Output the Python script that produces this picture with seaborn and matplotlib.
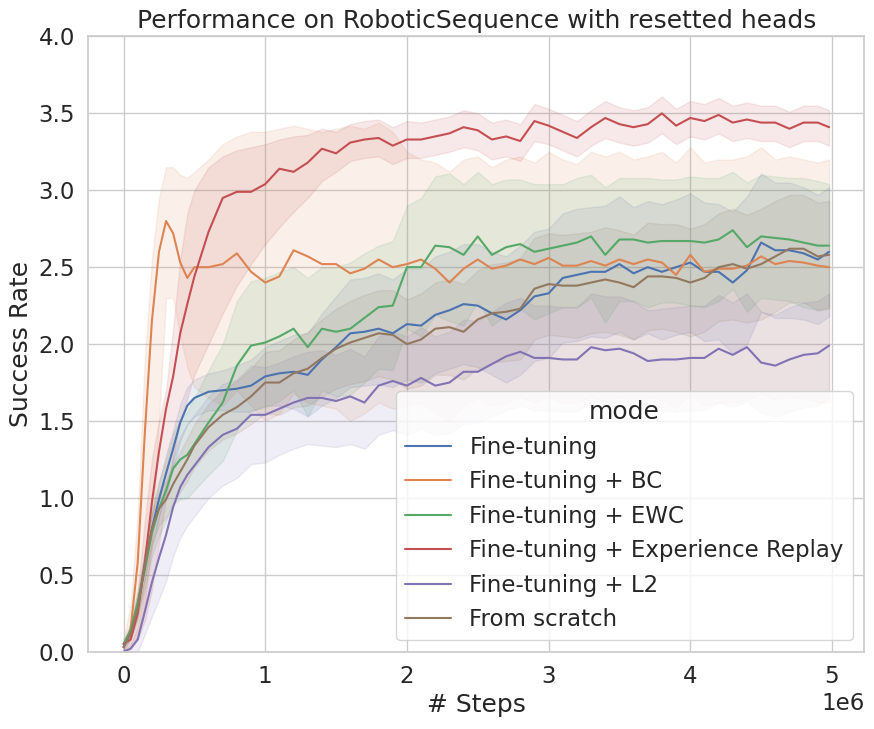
import pandas as pd
import numpy as np
import matplotlib
matplotlib.use("Agg")
import matplotlib.pyplot as plt
import seaborn as sns

# steps in millions
steps = [0.0, 0.05, 0.1, 0.15, 0.2, 0.25, 0.3, 0.35, 0.4, 0.45, 0.5,
         0.6, 0.7, 0.8, 0.9, 1.0,
         1.1, 1.2, 1.3, 1.4, 1.5, 1.6, 1.7, 1.8, 1.9, 2.0,
         2.1, 2.2, 2.3, 2.4, 2.5, 2.6, 2.7, 2.8, 2.9, 3.0,
         3.1, 3.2, 3.3, 3.4, 3.5, 3.6, 3.7, 3.8, 3.9, 4.0,
         4.1, 4.2, 4.3, 4.4, 4.5, 4.6, 4.7, 4.8, 4.9,
         4.98]

modes = ['Fine-tuning', 'Fine-tuning + BC', 'Fine-tuning + EWC',
         'Fine-tuning + Experience Replay', 'Fine-tuning + L2', 'From scratch']

# Fine-tuning
ft_mean = [0.03, 0.12, 0.30, 0.56, 0.80, 0.99, 1.16, 1.32, 1.49, 1.60, 1.65,
           1.69, 1.70, 1.71, 1.73, 1.79,
           1.81, 1.82, 1.80, 1.90, 1.98, 2.07, 2.08, 2.10, 2.07, 2.13,
           2.12, 2.19, 2.22, 2.26, 2.25, 2.20, 2.16, 2.22, 2.31, 2.33,
           2.43, 2.45, 2.47, 2.47, 2.52, 2.46, 2.50, 2.47, 2.50, 2.53,
           2.47, 2.47, 2.40, 2.48, 2.66, 2.61, 2.61, 2.59, 2.55,
           2.60]
ft_err = [0.02, 0.04, 0.07, 0.09, 0.10, 0.11, 0.12, 0.12, 0.12, 0.12, 0.12,
          0.12, 0.13, 0.15, 0.17, 0.19,
          0.21, 0.24, 0.27, 0.30, 0.33, 0.35, 0.35, 0.36, 0.35, 0.36,
          0.37, 0.38, 0.38, 0.39, 0.40, 0.40, 0.41, 0.42, 0.42, 0.42,
          0.42, 0.43, 0.42, 0.43, 0.44, 0.43, 0.43, 0.44, 0.44, 0.45,
          0.45, 0.44, 0.46, 0.48, 0.45, 0.44, 0.44, 0.43, 0.42,
          0.42]

# Fine-tuning + BC
bc_mean = [0.03, 0.15, 0.58, 1.42, 2.15, 2.60, 2.80, 2.72, 2.53, 2.43, 2.50,
           2.50, 2.52, 2.59, 2.47, 2.40,
           2.44, 2.61, 2.57, 2.52, 2.52, 2.46, 2.49, 2.55, 2.50, 2.52,
           2.55, 2.49, 2.40, 2.49, 2.55, 2.49, 2.51, 2.55, 2.52, 2.56,
           2.51, 2.51, 2.54, 2.51, 2.55, 2.52, 2.55, 2.53, 2.45, 2.58,
           2.47, 2.49, 2.49, 2.51, 2.57, 2.52, 2.54, 2.53, 2.51,
           2.50]
bc_lo = [0.00, 0.02, 0.10, 0.30, 0.70, 1.50, 2.30, 2.30, 2.05, 1.85, 1.72,
         1.65, 1.60, 1.70, 1.60, 1.50,
         1.55, 1.68, 1.62, 1.60, 1.58, 1.50, 1.55, 1.62, 1.58, 1.60,
         1.62, 1.55, 1.50, 1.60, 1.65, 1.60, 1.62, 1.66, 1.62, 1.66,
         1.62, 1.62, 1.66, 1.62, 1.66, 1.63, 1.66, 1.64, 1.58, 1.68,
         1.60, 1.62, 1.62, 1.64, 1.68, 1.64, 1.66, 1.65, 1.62,
         1.62]
bc_hi = [0.08, 0.30, 0.90, 1.90, 2.55, 2.95, 3.15, 3.15, 3.10, 3.08, 3.12,
         3.20, 3.30, 3.35, 3.38, 3.38,
         3.40, 3.42, 3.40, 3.38, 3.40, 3.42, 3.40, 3.44, 3.38, 3.25,
         3.20, 3.18, 3.12, 3.20, 3.22, 3.15, 3.20, 3.22, 3.18, 3.25,
         3.20, 3.17, 3.25, 3.22, 3.25, 3.20, 3.22, 3.25, 3.18, 3.28,
         3.18, 3.20, 3.20, 3.22, 3.28, 3.20, 3.22, 3.20, 3.18,
         3.20]

# Fine-tuning + EWC
ewc_mean = [0.05, 0.14, 0.32, 0.53, 0.77, 0.93, 1.05, 1.19, 1.25, 1.28, 1.35,
            1.49, 1.62, 1.86, 1.99, 2.01,
            2.05, 2.10, 1.98, 2.10, 2.08, 2.10, 2.17, 2.24, 2.25, 2.50,
            2.50, 2.64, 2.63, 2.58, 2.70, 2.58, 2.63, 2.65, 2.60, 2.62,
            2.64, 2.66, 2.70, 2.58, 2.68, 2.68, 2.66, 2.67, 2.67, 2.67,
            2.66, 2.68, 2.74, 2.63, 2.70, 2.69, 2.68, 2.66, 2.64,
            2.64]
ewc_err = [0.02, 0.05, 0.08, 0.12, 0.15, 0.18, 0.20, 0.23, 0.26, 0.28, 0.30,
           0.34, 0.38, 0.42, 0.42, 0.42,
           0.42, 0.40, 0.45, 0.40, 0.42, 0.43, 0.42, 0.40, 0.42, 0.40,
           0.45, 0.45, 0.48, 0.46, 0.42, 0.46, 0.44, 0.42, 0.44, 0.42,
           0.40, 0.42, 0.40, 0.44, 0.40, 0.40, 0.42, 0.40, 0.40, 0.42,
           0.42, 0.40, 0.38, 0.42, 0.40, 0.40, 0.40, 0.42, 0.42,
           0.40]

# Fine-tuning + Experience Replay
er_mean = [0.05, 0.08, 0.25, 0.58, 0.97, 1.30, 1.58, 1.79, 2.07, 2.26, 2.44,
           2.73, 2.95, 2.99, 2.99, 3.04,
           3.14, 3.12, 3.18, 3.27, 3.24, 3.31, 3.33, 3.34, 3.29, 3.33,
           3.33, 3.35, 3.37, 3.41, 3.39, 3.33, 3.35, 3.32, 3.45, 3.42,
           3.38, 3.34, 3.41, 3.47, 3.43, 3.41, 3.43, 3.50, 3.42, 3.47,
           3.45, 3.49, 3.44, 3.46, 3.44, 3.44, 3.40, 3.44, 3.44,
           3.41]
er_lo = [0.00, 0.02, 0.08, 0.20, 0.40, 0.70, 1.00, 1.25, 1.50, 1.65, 1.80,
         2.00, 2.20, 2.38, 2.52, 2.65,
         2.76, 2.86, 2.95, 3.06, 3.12, 3.19, 3.21, 3.22, 3.17, 3.21,
         3.21, 3.23, 3.25, 3.28, 3.26, 3.20, 3.22, 3.19, 3.32, 3.30,
         3.26, 3.22, 3.29, 3.34, 3.31, 3.29, 3.31, 3.37, 3.30, 3.35,
         3.33, 3.37, 3.32, 3.34, 3.32, 3.32, 3.28, 3.32, 3.32,
         3.29]
er_hi = [0.08, 0.15, 0.40, 0.85, 1.25, 1.50, 1.70, 2.10, 2.55, 2.85, 3.00,
         3.15, 3.22, 3.26, 3.28, 3.30,
         3.33, 3.35, 3.36, 3.40, 3.38, 3.43, 3.45, 3.46, 3.41, 3.45,
         3.44, 3.46, 3.48, 3.52, 3.50, 3.44, 3.46, 3.43, 3.56, 3.53,
         3.49, 3.45, 3.52, 3.58, 3.54, 3.52, 3.54, 3.61, 3.53, 3.58,
         3.56, 3.60, 3.55, 3.57, 3.55, 3.55, 3.51, 3.55, 3.55,
         3.52]

# Fine-tuning + L2
l2_mean = [0.00, 0.02, 0.08, 0.26, 0.45, 0.61, 0.76, 0.94, 1.07, 1.15, 1.21,
           1.33, 1.41, 1.45, 1.54, 1.54,
           1.58, 1.62, 1.65, 1.65, 1.63, 1.66, 1.62, 1.73, 1.76, 1.73,
           1.78, 1.73, 1.75, 1.82, 1.82, 1.87, 1.92, 1.95, 1.91, 1.91,
           1.90, 1.90, 1.98, 1.96, 1.97, 1.94, 1.89, 1.90, 1.90, 1.91,
           1.91, 1.97, 1.93, 1.98, 1.88, 1.86, 1.90, 1.93, 1.94,
           1.99]
l2_err = [0.01, 0.03, 0.08, 0.15, 0.22, 0.27, 0.30, 0.32, 0.33, 0.33, 0.33,
          0.33, 0.33, 0.32, 0.32, 0.31,
          0.30, 0.30, 0.30, 0.31, 0.30, 0.31, 0.30, 0.32, 0.32, 0.32,
          0.33, 0.32, 0.33, 0.34, 0.33, 0.34, 0.35, 0.35, 0.34, 0.34,
          0.34, 0.34, 0.35, 0.35, 0.34, 0.34, 0.33, 0.33, 0.34, 0.34,
          0.34, 0.35, 0.34, 0.35, 0.33, 0.33, 0.34, 0.34, 0.34,
          0.34]

# From scratch
fs_mean = [0.03, 0.12, 0.28, 0.56, 0.80, 0.93, 0.99, 1.09, 1.17, 1.25, 1.34,
           1.46, 1.54, 1.59, 1.66, 1.75,
           1.75, 1.81, 1.84, 1.91, 1.97, 2.01, 2.04, 2.07, 2.06, 2.00,
           2.03, 2.10, 2.11, 2.08, 2.16, 2.20, 2.21, 2.23, 2.36, 2.39,
           2.38, 2.38, 2.40, 2.42, 2.40, 2.37, 2.44, 2.44, 2.43, 2.40,
           2.43, 2.50, 2.52, 2.49, 2.52, 2.57, 2.62, 2.62, 2.57,
           2.58]
fs_err = [0.02, 0.04, 0.07, 0.09, 0.10, 0.11, 0.12, 0.13, 0.13, 0.14, 0.14,
          0.15, 0.16, 0.17, 0.18, 0.20,
          0.21, 0.22, 0.24, 0.25, 0.26, 0.27, 0.28, 0.28, 0.29, 0.29,
          0.30, 0.30, 0.31, 0.31, 0.32, 0.32, 0.32, 0.33, 0.33, 0.33,
          0.33, 0.34, 0.33, 0.34, 0.34, 0.34, 0.35, 0.34, 0.35, 0.35,
          0.35, 0.35, 0.36, 0.35, 0.36, 0.36, 0.35, 0.35, 0.35,
          0.35]


def sym_band(mean, err):
    m = np.array(mean)
    e = np.array(err)
    return np.clip(m - e, 0, None), m + e


bands = {
    'Fine-tuning': (ft_mean, *sym_band(ft_mean, ft_err)),
    'Fine-tuning + BC': (bc_mean, bc_lo, bc_hi),
    'Fine-tuning + EWC': (ewc_mean, *sym_band(ewc_mean, ewc_err)),
    'Fine-tuning + Experience Replay': (er_mean, er_lo, er_hi),
    'Fine-tuning + L2': (l2_mean, *sym_band(l2_mean, l2_err)),
    'From scratch': (fs_mean, *sym_band(fs_mean, fs_err)),
}

# long table: low / mean / high rows per step, median gives the mean line,
# full percentile interval gives the shaded band
rows = []
for mode in modes:
    mean, lo, hi = bands[mode]
    for s, m, l, h in zip(steps, mean, lo, hi):
        for v in (l, m, h):
            rows.append({'step': s * 1e6, 'success': v, 'mode': mode})
df = pd.DataFrame(rows)

sns.set_theme(style="whitegrid", font_scale=1.5)

fig, ax = plt.subplots(figsize=(8.74, 7.29), dpi=100)
sns.lineplot(data=df, x='step', y='success', hue='mode', hue_order=modes,
             estimator='median', errorbar=('pi', 100),
             err_kws={'alpha': 0.12}, ax=ax)

ax.set_ylim(0, 4)
ax.set_xlabel('# Steps')
ax.set_ylabel('Success Rate')
ax.set_title('Performance on RoboticSequence with resetted heads')
ax.legend(title='mode', loc='lower right')

fig.subplots_adjust(left=0.101, right=0.989, top=0.950, bottom=0.106)
fig.savefig('out.png', dpi=100)
